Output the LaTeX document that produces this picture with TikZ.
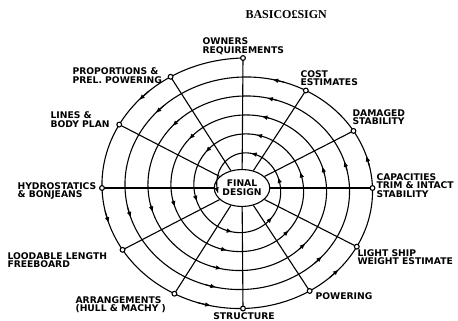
\documentclass[tikz,border=0pt]{standalone}
\usepackage{fontspec}
\setmainfont{DejaVu Sans}
\newfontfamily\titlefont{Liberation Serif}
\usetikzlibrary{shapes.geometric,arrows.meta}
\begin{document}
\begin{tikzpicture}[x=1pt,y=-1pt,line width=1.1pt,
  declare function={ax(\t)=146.75-23*\t; by(\t)=130-19*\t;
    px(\t)=243+ax(\t)*cos(90+360*\t); py(\t)=188-by(\t)*sin(90+360*\t);},
  dot/.style={circle,draw,fill=white,inner sep=0pt,minimum size=4.8pt,line width=1.1pt},
  lbl/.style={font=\fontsize{9.2}{8.4}\selectfont\bfseries,align=left,inner sep=0pt},
  arr/.style={-{Latex[length=6pt,width=4.6pt]}}]
\useasboundingbox (0,0) rectangle (458,321);
% title
\node[font=\titlefont\bfseries\fontsize{12}{12}\selectfont,anchor=north west,inner sep=0pt] (title) at (245,10) {BASICO£SIGN};
% centre
\node[ellipse,draw,minimum width=51pt,minimum height=37pt,inner sep=0pt,
      font=\fontsize{9.2}{9}\selectfont\bfseries,align=center] (final) at (242,188) {FINAL\\DESIGN};
% spoke points
\foreach \k in {0,...,11}{
  \coordinate (p\k) at ({px(\k/12)},{py(\k/12)});
}
% spiral
\draw[arr] plot[domain=0:5.28,samples=900] ({px(\x)},{py(\x)});
% arrows on spiral
\foreach \n in {0,...,4}{
  \foreach \o in {0.125,0.2917,0.4583,0.625,0.7917,0.9583}{
    \draw[arr] ({px(\n+\o-0.012)},{py(\n+\o-0.012)}) -- ({px(\n+\o+0.004)},{py(\n+\o+0.004)});
  }
}
% spokes
\foreach \k in {0,...,11}{
  \draw (p\k) -- (final);
}
\foreach \k in {0,...,11}{
  \node[dot] (n\k) at (p\k) {};
}
% labels
\node[lbl,anchor=south west] (l0) at (202,55) {OWNERS\\REQUIREMENTS};
\node[lbl,anchor=south west] (l1) at (72,84) {PROPORTIONS \&\\PREL. POWERING};
\node[lbl,anchor=south west] (l2) at (50,128) {LINES \&\\BODY PLAN};
\node[lbl,anchor=north west] (l3) at (17,182) {HYDROSTATICS\\\& BONJEANS};
\node[lbl,anchor=north west] (l4) at (7,252) {LOODABLE LENGTH\\FREEBOARD};
\node[lbl,anchor=north west] (l5) at (75,296) {ARRANGEMENTS\\(HULL \& MACHY )};
\node[lbl,anchor=north] (l6) at (244,312) {STRUCTURE};
\node[lbl,anchor=north west] (l7) at (315,292) {POWERING};
\node[lbl,anchor=north west] (l8) at (357,249) {LIGHT SHIP\\WEIGHT ESTIMATE};
\node[lbl,anchor=north west] (l9) at (376,173) {CAPACITIES\\TRIM \& INTACT\\STABILITY};
\node[lbl,anchor=north west] (l10) at (352,109) {DAMAGED\\STABILITY};
\node[lbl,anchor=north west] (l11) at (300,70) {COST\\ESTIMATES};
\end{tikzpicture}
\end{document}
